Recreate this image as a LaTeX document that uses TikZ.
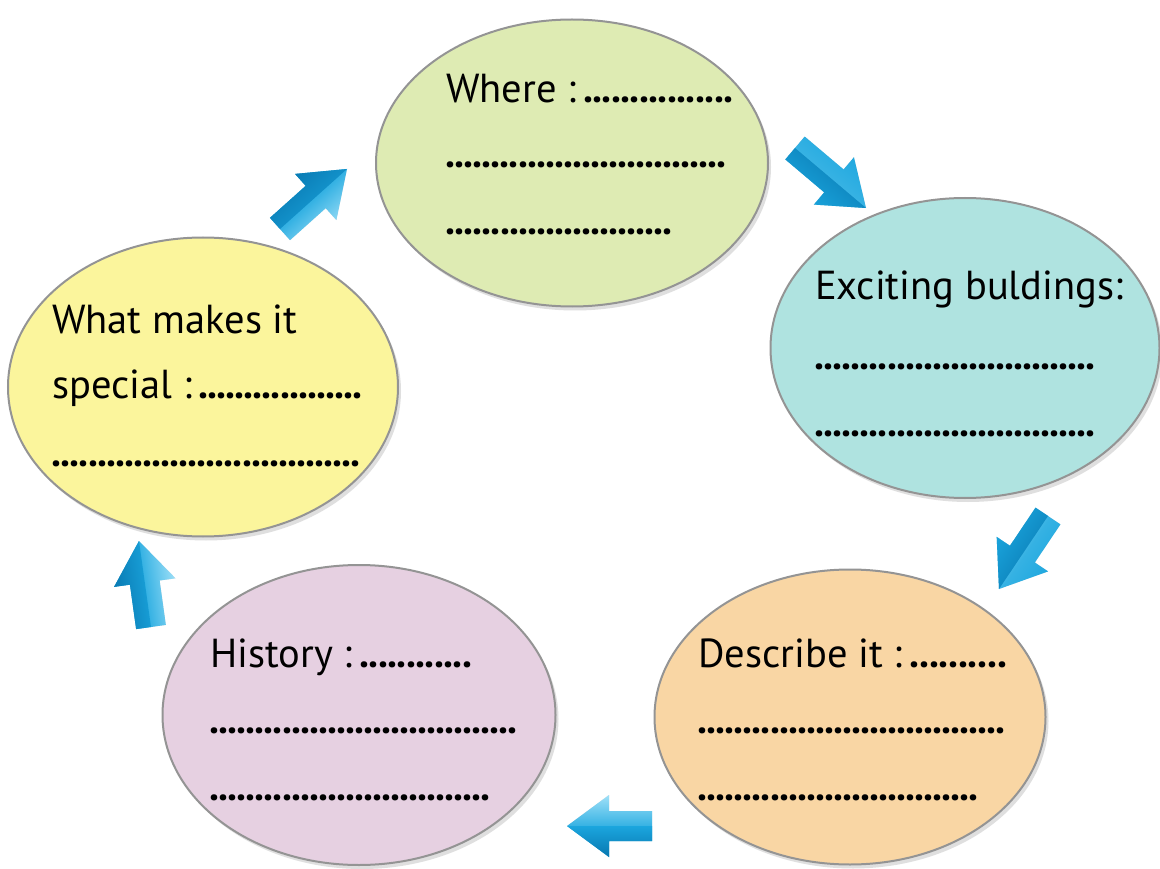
\documentclass[tikz,border=0pt]{standalone}
\usepackage{fontspec}
\setmainfont{PT Sans}
\usetikzlibrary{shapes.geometric,shadows,calc}
\definecolor{cgreen}{HTML}{DEEBB3}
\definecolor{ccyan}{HTML}{AFE3E0}
\definecolor{corange}{HTML}{F9D6A4}
\definecolor{cpurple}{HTML}{E6D0E1}
\definecolor{cyellow}{HTML}{FBF59C}
\definecolor{arrmid}{HTML}{1BA6DE}
\definecolor{arrdark}{HTML}{0877B0}
\definecolor{arrlight}{HTML}{9FE0F8}
\newcommand\lbl[2]{\makebox[#1][l]{#2\xleaders\hbox to 9pt{\hss\textbf{.}\hss}\hfill}}
% block arrow: #1 tail, #2 tip, #3 = 1 (dark on right) or -1 (dark on left), #4 shading angle
\newcommand\barrow[4]{%
  \coordinate (#1h) at ($(#2)!42pt!(#1)$);
  \coordinate (#1p1) at ($(#1)!15pt!90:(#2)$);
  \coordinate (#1p2) at ($(#1h)!15pt!90:(#2)$);
  \coordinate (#1p3) at ($(#1h)!31pt!90:(#2)$);
  \coordinate (#1p4) at ($(#1h)!31pt!-90:(#2)$);
  \coordinate (#1p5) at ($(#1h)!15pt!-90:(#2)$);
  \coordinate (#1p6) at ($(#1)!15pt!-90:(#2)$);
  \fill[black,opacity=0.12,shift={(3pt,5pt)}] (#1p1)--(#1p2)--(#1p3)--(#2)--(#1p4)--(#1p5)--(#1p6)--cycle;
  \shade[left color=arrmid, right color=arrlight, middle color=arrmid!80!arrlight, shading angle=#4] (#1p1)--(#1p2)--(#1p3)--(#2)--(#1p4)--(#1p5)--(#1p6)--cycle;
  \ifnum#3=1
    \shade[left color=arrdark, right color=arrmid, shading angle=#4] (#1)--(#1p1)--(#1p2)--(#1p3)--(#2)--cycle;
  \else
    \shade[left color=arrdark, right color=arrmid, shading angle=#4] (#1)--(#1p6)--(#1p5)--(#1p4)--(#2)--cycle;
  \fi
}
\begin{document}
\begin{tikzpicture}[x=1pt,y=-1pt,
  bubble/.style={ellipse, draw=black!42, line width=2pt, inner sep=0pt,
    drop shadow={opacity=0.25, shadow xshift=3pt, shadow yshift=-4pt}},
  txt/.style={anchor=base west, inner sep=0pt, font=\fontsize{40.5}{40.5}\selectfont}]
\useasboundingbox (0,0) rectangle (1160,869);
\fill[white] (0,0) rectangle (1160,869);

\node[bubble, fill=cgreen, minimum width=392pt, minimum height=287pt] (where) at (572,163) {};
\node[bubble, fill=ccyan, minimum width=389pt, minimum height=300pt] (build) at (965,348) {};
\node[bubble, fill=corange, minimum width=391pt, minimum height=295pt] (descr) at (850,717) {};
\node[bubble, fill=cpurple, minimum width=393pt, minimum height=300pt] (hist) at (359,715) {};
\node[bubble, fill=cyellow, minimum width=390pt, minimum height=299pt] (spec) at (203,387) {};

\node[txt] (w1) at (446,103) {\lbl{287pt}{Where :\,}};
\node[txt] (w2) at (446,168) {\lbl{280pt}{}};
\node[txt] (w3) at (446,235) {\lbl{226pt}{}};

\node[txt] (b1) at (815,300) {Exciting buldings:};
\node[txt] (b2) at (815,369) {\lbl{280pt}{}};
\node[txt] (b3) at (815,436) {\lbl{280pt}{}};

\node[txt] (s1) at (52,333) {What makes it};
\node[txt] (s2) at (52,398) {\lbl{310pt}{special :\,}};
\node[txt] (s3) at (52,466) {\lbl{308pt}{}};

\node[txt] (h1) at (210,667) {\lbl{262pt}{History :\,}};
\node[txt] (h2) at (210,733) {\lbl{307pt}{}};
\node[txt] (h3) at (210,800) {\lbl{280pt}{}};

\node[txt] (d1) at (698,667) {\lbl{309pt}{Describe it :\,}};
\node[txt] (d2) at (698,733) {\lbl{307pt}{}};
\node[txt] (d3) at (698,800) {\lbl{280pt}{}};

\coordinate (a1t) at (280,229); \coordinate (a1h) at (347,169);
\coordinate (a2t) at (795,148); \coordinate (a2h) at (866,208);
\coordinate (a3t) at (1048,516); \coordinate (a3h) at (999,589);
\coordinate (a4t) at (652,826); \coordinate (a4h) at (567,826);
\coordinate (a5t) at (151,627); \coordinate (a5h) at (139,541);
\barrow{a1t}{a1h}{1}{42}
\barrow{a2t}{a2h}{-1}{-40}
\barrow{a3t}{a3h}{-1}{236}
\barrow{a4t}{a4h}{1}{180}
\barrow{a5t}{a5h}{1}{98}
\end{tikzpicture}
\end{document}
